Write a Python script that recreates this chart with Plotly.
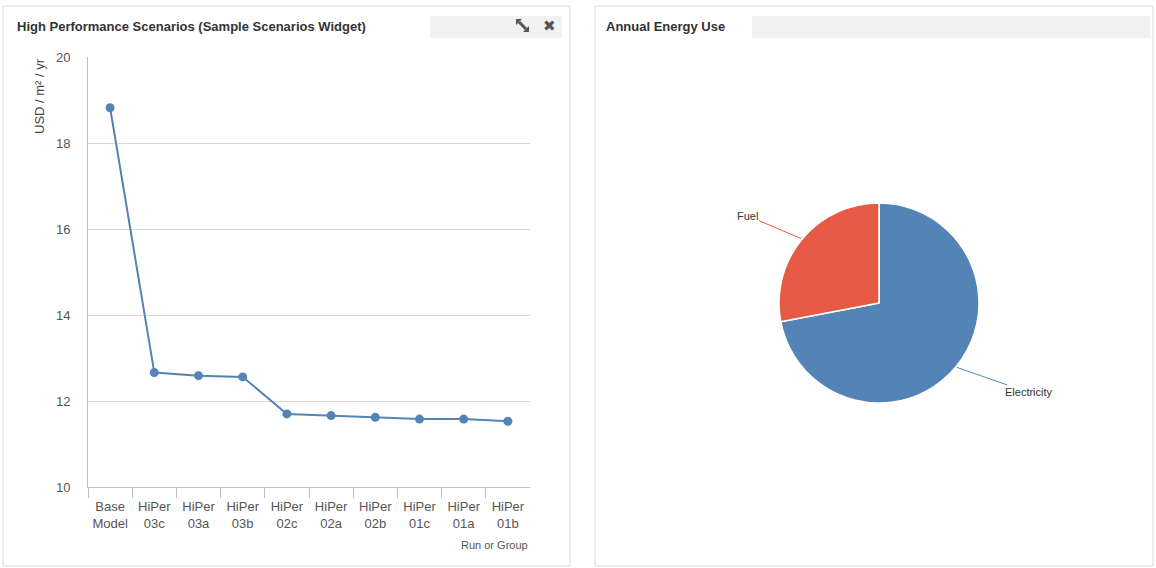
import math
import plotly.graph_objects as go

W, H = 1156, 568

# ---- data ----
categories = ["Base<br>Model", "HiPer<br>03c", "HiPer<br>03a", "HiPer<br>03b", "HiPer<br>02c",
              "HiPer<br>02a", "HiPer<br>02b", "HiPer<br>01c", "HiPer<br>01a", "HiPer<br>01b"]
cost_values = [18.82, 12.66, 12.59, 12.56, 11.70, 11.66, 11.62, 11.58, 11.58, 11.53]
y_ticks = [10, 12, 14, 16, 18, 20]

energy_labels = ["Electricity", "Fuel"]
energy_values = [72, 28]

BLUE = "#5384b5"
RED = "#e65a45"
FONT = "Liberation Sans, Arial, sans-serif"


def px(x):
    return x / W


def py(y):
    return 1 - y / H


fig = go.Figure()

fig.add_trace(go.Scatter(
    x=categories, y=cost_values, mode="lines+markers",
    line=dict(color=BLUE, width=2),
    marker=dict(color=BLUE, size=9),
    xaxis="x", yaxis="y", showlegend=False, hoverinfo="x+y"))

# pie
pie_cx, pie_cy, pie_r = 879, 303, 100
slice_colors = [BLUE, RED]
fig.add_trace(go.Pie(
    labels=energy_labels, values=energy_values, sort=False,
    direction="clockwise", rotation=0,
    marker=dict(colors=slice_colors, line=dict(color="white", width=1.5)),
    textinfo="none", showlegend=False, automargin=False,
    domain=dict(x=[px(pie_cx - pie_r), px(pie_cx + pie_r)],
                y=[py(pie_cy + pie_r), py(pie_cy - pie_r)])))


def ppath(points):
    return "M " + " L ".join(f"{px(x):.5f},{py(y):.5f}" for x, y in points) + " Z"


shapes = []
# panel borders
shapes.append(dict(type="rect", xref="paper", yref="paper", x0=px(3), x1=px(570), y0=py(566), y1=py(6),
                   line=dict(color="#dcdcdc", width=1), fillcolor="rgba(0,0,0,0)", layer="below"))
shapes.append(dict(type="rect", xref="paper", yref="paper", x0=px(595), x1=px(1153), y0=py(566), y1=py(6),
                   line=dict(color="#dcdcdc", width=1), fillcolor="rgba(0,0,0,0)", layer="below"))
# header strips
shapes.append(dict(type="rect", xref="paper", yref="paper", x0=px(430), x1=px(562), y0=py(38), y1=py(16),
                   line=dict(width=0), fillcolor="#f1f1f1", layer="below"))
shapes.append(dict(type="rect", xref="paper", yref="paper", x0=px(752), x1=px(1150), y0=py(38), y1=py(16),
                   line=dict(width=0), fillcolor="#f1f1f1", layer="below"))
# resize icon
shapes.append(dict(type="line", xref="paper", yref="paper", x0=px(519), y0=py(22), x1=px(526), y1=py(29),
                   line=dict(color="#555555", width=3)))
shapes.append(dict(type="path", xref="paper", yref="paper",
                   path=ppath([(516, 19), (522, 19), (516, 25)]),
                   fillcolor="#555555", line=dict(width=0)))
shapes.append(dict(type="path", xref="paper", yref="paper",
                   path=ppath([(529, 32), (523, 32), (529, 26)]),
                   fillcolor="#555555", line=dict(width=0)))

annotations = [
    dict(text="<b>High Performance Scenarios (Sample Scenarios Widget)</b>", x=px(15), y=py(26),
         xref="paper", yref="paper", xanchor="left", yanchor="middle", showarrow=False,
         font=dict(family=FONT, size=13, color="#333333")),
    dict(text="<b>Annual Energy Use</b>", x=px(604), y=py(26),
         xref="paper", yref="paper", xanchor="left", yanchor="middle", showarrow=False,
         font=dict(family=FONT, size=13, color="#333333")),
    dict(text="✖", x=px(549), y=py(26), xref="paper", yref="paper", showarrow=False,
         xanchor="center", yanchor="middle",
         font=dict(family="DejaVu Sans", size=15, color="#555555")),
    dict(text="USD / m² / yr", x=px(40), y=py(56), xref="paper", yref="paper",
         xanchor="center", yanchor="top", textangle=-90, showarrow=False,
         font=dict(family=FONT, size=13, color="#444444")),
    dict(text="Run or Group", x=px(530), y=py(545), xref="paper", yref="paper",
         xanchor="right", yanchor="middle", showarrow=False,
         font=dict(family=FONT, size=11, color="#555555")),
]

# pie labels with leader lines at slice mid-angles (clockwise from 12 o'clock)
total = sum(energy_values)
cum = 0
offsets = {"Fuel": (-54, -23), "Electricity": (72, 25)}
for lab, val, col in zip(energy_labels, energy_values, slice_colors):
    mid = (cum + val / 2) / total * 2 * math.pi
    cum += val
    ex = pie_cx + math.sin(mid) * (pie_r + 1)
    ey = pie_cy - math.cos(mid) * (pie_r + 1)
    ax, ay = offsets[lab]
    annotations.append(dict(text=lab, x=px(ex), y=py(ey), xref="paper", yref="paper",
                            ax=ax, ay=ay, showarrow=True, arrowhead=0, arrowwidth=1,
                            arrowcolor=col, font=dict(family=FONT, size=11, color="#333333")))

fig.update_layout(
    template="none",
    width=W, height=H, margin=dict(l=0, r=0, t=0, b=0, autoexpand=False),
    paper_bgcolor="white", plot_bgcolor="white",
    font=dict(family=FONT, size=12, color="#555555"),
    xaxis=dict(domain=[px(88), px(530)], anchor="y", type="category", range=[-0.5, 9.5],
               automargin=False, tickangle=0,
               showgrid=False, showline=True, linecolor="#c0c0c0", linewidth=1,
               ticks="outside", tickson="boundaries", ticklen=10, tickcolor="#c0c0c0",
               ticklabelstandoff=7,
               tickfont=dict(family=FONT, size=13, color="#555555"), fixedrange=True),
    yaxis=dict(domain=[py(487), py(57)], anchor="x", range=[10, 20], automargin=False,
               tickvals=y_ticks, showgrid=True, gridcolor="#d8d8d8", gridwidth=1,
               showline=True, linecolor="#c0c0c0", zeroline=False,
               ticks="", ticklabelstandoff=14,
               tickfont=dict(family=FONT, size=13, color="#555555"), fixedrange=True),
    shapes=shapes, annotations=annotations,
)

fig.write_html("out.html")
